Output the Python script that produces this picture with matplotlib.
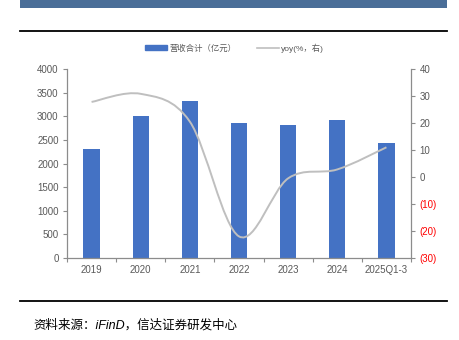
import numpy as np
import matplotlib.pyplot as plt
from matplotlib.path import Path
from matplotlib.patches import PathPatch, Rectangle
from matplotlib.lines import Line2D

plt.rcParams['font.family'] = ['Liberation Sans', 'Noto Sans CJK SC', 'DejaVu Sans']

years = ["2019", "2020", "2021", "2022", "2023", "2024", "2025Q1-3"]
revenue = [2305, 3005, 3325, 2860, 2825, 2925, 2435]   # 亿元
yoy = [27.8, 30.8, 20.5, -22.0, -0.5, 2.8, 11.0]       # %

BAR_C = "#4472C4"
LINE_C = "#BFBFBF"
AXIS_C = "#8C8C8C"
TXT_C = "#595959"

fig = plt.figure(figsize=(4.6, 3.4), dpi=100)

# header band and rules
fig.patches.append(Rectangle((20/460, 1-8/340), 427/460, 8/340,
                             transform=fig.transFigure, color="#4A6E98", lw=0))
fig.add_artist(Line2D([20/460, 447/460], [1-31/340]*2, color="black", lw=1.3))
fig.add_artist(Line2D([20/460, 447/460], [1-301/340]*2, color="black", lw=1.3))

ax = fig.add_axes([67/460, 1-258/340, 344/460, 189/340])
x = np.arange(len(years))
ax.bar(x, revenue, width=0.33, color=BAR_C, zorder=2)
ax.set_xlim(-0.5, len(years)-0.5)
ax.set_ylim(0, 4000)
ax.set_yticks(range(0, 4001, 500))
ax.set_xticks(x)
ax.set_xticklabels(years)
ax.set_xticks(np.arange(-0.5, len(years)), minor=True)
ax.tick_params(axis="x", which="major", length=0, labelsize=7, colors=TXT_C, pad=5)
ax.tick_params(axis="x", which="minor", length=3, color=AXIS_C, width=0.8)
ax.tick_params(axis="y", length=3, color=AXIS_C, width=0.8, labelsize=7,
               labelcolor=TXT_C, pad=3)
for s in ["top", "right"]:
    ax.spines[s].set_visible(False)
for s in ["left", "bottom"]:
    ax.spines[s].set_color(AXIS_C)
    ax.spines[s].set_linewidth(0.9)

ax2 = ax.twinx()
ax2.set_ylim(-30, 40)
ax2.set_yticks(range(-30, 41, 10))
ax2.set_yticklabels([f"({abs(v)})" if v < 0 else str(v) for v in range(-30, 41, 10)])
for lab, v in zip(ax2.get_yticklabels(), range(-30, 41, 10)):
    lab.set_color("red" if v < 0 else TXT_C)
ax2.tick_params(axis="y", length=3, color=AXIS_C, width=0.8, labelsize=7, pad=3)
for s in ["top", "left", "bottom"]:
    ax2.spines[s].set_visible(False)
ax2.spines["right"].set_color(AXIS_C)
ax2.spines["right"].set_linewidth(0.9)

# smoothed yoy line: Catmull-Rom segments as cubic Bezier curves
pts = np.column_stack([x, yoy]).astype(float)
verts = [pts[0]]
codes = [Path.MOVETO]
for i in range(len(pts)-1):
    p0 = pts[i-1] if i > 0 else pts[i]
    p1, p2 = pts[i], pts[i+1]
    p3 = pts[i+2] if i+2 < len(pts) else pts[i+1]
    c1 = p1 + (p2 - p0) / 6
    c2 = p2 - (p3 - p1) / 6
    verts += [c1, c2, p2]
    codes += [Path.CURVE4]*3
ax2.add_patch(PathPatch(Path(verts, codes), fill=False, ec=LINE_C, lw=1.4, zorder=3))

# legend
handles = [Rectangle((0, 0), 1, 1, color=BAR_C),
           Line2D([], [], color=LINE_C, lw=1.2)]
fig.legend(handles, ["营收合计（亿元）", "yoy(%，右)"], loc="center",
           bbox_to_anchor=(0.51, 1-48/340), ncol=2, frameon=False, fontsize=6,
           handlelength=2.6, handleheight=0.45, columnspacing=2.5,
           handletextpad=0.3, labelcolor=TXT_C)

fig.text(33/460, 1-325/340, "资料来源：iFinD，信达证券研发中心", fontsize=9,
         style="italic", va="center", ha="left", color="black")

fig.savefig("out.png", dpi=100)
